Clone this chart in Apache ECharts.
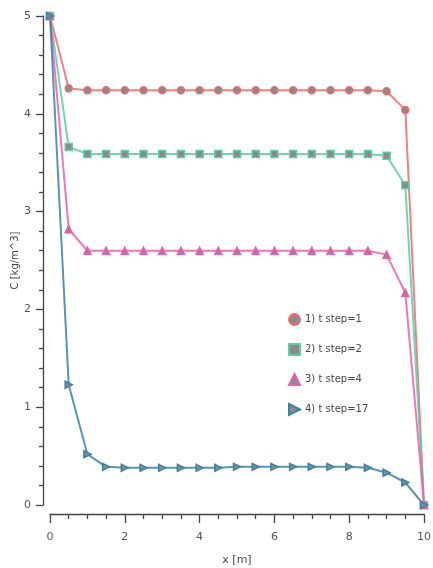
<!DOCTYPE html>
<html>
<head>
<meta charset="utf-8">
<script src="https://cdn.jsdelivr.net/npm/echarts@6/dist/echarts.min.js"></script>
<style>html,body{margin:0;padding:0;background:#fff}#c{width:433px;height:568px}</style>
</head>
<body>
<div id="c"></div>
<script>
// x positions [m]
const xs = [0, 0.5, 1, 1.5, 2, 2.5, 3, 3.5, 4, 4.5, 5, 5.5, 6, 6.5, 7, 7.5, 8, 8.5, 9, 9.5, 10];
// concentration C per time step
const step1 = [5, 4.26, 4.24, 4.24, 4.24, 4.24, 4.24, 4.24, 4.24, 4.24, 4.24, 4.24, 4.24, 4.24, 4.24, 4.24, 4.24, 4.24, 4.23, 4.04, 0];
const step2 = [5, 3.66, 3.59, 3.59, 3.59, 3.59, 3.59, 3.59, 3.59, 3.59, 3.59, 3.59, 3.59, 3.59, 3.59, 3.59, 3.59, 3.59, 3.57, 3.27, 0];
const step4 = [5, 2.82, 2.60, 2.60, 2.60, 2.60, 2.60, 2.60, 2.60, 2.60, 2.60, 2.60, 2.60, 2.60, 2.60, 2.60, 2.60, 2.60, 2.56, 2.17, 0];
const step17 = [5, 1.23, 0.52, 0.39, 0.38, 0.38, 0.38, 0.38, 0.38, 0.38, 0.39, 0.39, 0.39, 0.39, 0.39, 0.39, 0.39, 0.38, 0.33, 0.23, 0];
const names = ["1) t step=1", "2) t step=2", "3) t step=4", "4) t step=17"];

const chart = echarts.init(document.getElementById("c"));
const font = "DejaVu Sans";
const pts = ys => xs.map((x, i) => [x, ys[i]]);
const rightTri = "path://M0,0L10,5L0,10Z";
const mk = (name, ys, col, symbol, size) => ({
  name, type: "line", data: pts(ys), symbol, symbolSize: size,
  lineStyle: { color: col, width: 2, opacity: 0.85 },
  itemStyle: { color: "#8a8a8a", borderColor: col, borderWidth: 1.5 },
  emphasis: { disabled: true }, z: 2
});
const axisCol = "#444";
// axis line + major/minor ticks, drawn detached from the plot like the original
const axisBits = (tickLen, minorLen, minorSplit) => ({
  axisLine: { show: true, onZero: false, lineStyle: { color: axisCol, width: 1.3 } },
  axisTick: { show: true, length: tickLen, lineStyle: { color: axisCol, width: 1.3 } },
  minorTick: { show: true, splitNumber: minorSplit, length: minorLen, lineStyle: { color: axisCol, width: 1.3 } },
  splitLine: { show: false }, minorSplitLine: { show: false }
});

chart.setOption({
  animation: false,
  grid: { left: 50, right: 9, top: 16, bottom: 63, outerBoundsMode: "none", containLabel: false },
  legend: {
    orient: "vertical", left: 283, top: 308, itemWidth: 11, itemHeight: 11, itemGap: 17,
    textStyle: { fontFamily: font, fontSize: 10, color: "#444" },
    data: [
      { name: names[0], icon: "circle" },
      { name: names[1], icon: "rect" },
      { name: names[2], icon: "triangle" },
      { name: names[3], icon: rightTri }
    ]
  },
  xAxis: Object.assign({
    type: "value", min: 0, max: 10, interval: 2, offset: 9,
    name: "x [m]", nameLocation: "middle", nameGap: 41, nameMoveOverlap: false,
    nameTextStyle: { fontFamily: font, fontSize: 11, color: "#444" },
    axisLabel: { fontFamily: font, fontSize: 11, color: "#555", margin: 18 }
  }, axisBits(9, 5, 4)),
  yAxis: Object.assign({
    type: "value", min: 0, max: 5, interval: 1, offset: 7,
    name: "C [kg/m^3]", nameLocation: "middle", nameGap: 23, nameRotate: 90, nameMoveOverlap: false,
    nameTextStyle: { fontFamily: font, fontSize: 10, color: "#444" },
    axisLabel: { fontFamily: font, fontSize: 11, color: "#555", margin: 12 }
  }, axisBits(7, 4, 5)),
  series: [
    mk(names[0], step1, "#f06a6a", "circle", 7),
    mk(names[1], step2, "#5ccda4", "rect", 7),
    mk(names[2], step4, "#f05cae", "triangle", 7),
    mk(names[3], step17, "#3a82a6", rightTri, 7)
  ]
});
window.addEventListener("resize", () => chart.resize());
</script>
</body>
</html>
